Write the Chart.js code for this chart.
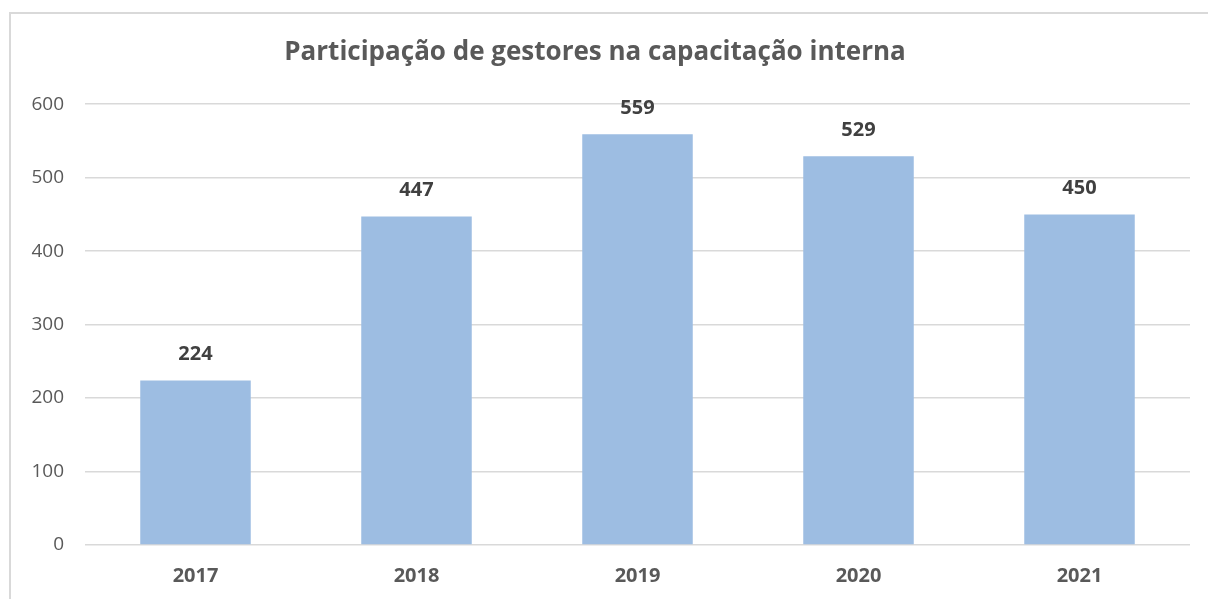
<!DOCTYPE html>
<html>
<head>
<meta charset="utf-8">
<script src="https://cdn.jsdelivr.net/npm/chart.js@4"></script>
<style>
  html, body { margin: 0; padding: 0; background: #fff; }
  #wrap { position: relative; width: 1208px; height: 599px; }
</style>
</head>
<body>
<div id="wrap"><canvas id="chart" width="1208" height="599"></canvas></div>
<script>
// Chart data
const years = ['2017', '2018', '2019', '2020', '2021'];
const participants = [224, 447, 559, 529, 450];
const yTicks = [0, 100, 200, 300, 400, 500, 600];

const textColor = '#595959';
const gridColor = '#d9d9d9';
const barColor = '#9dbde2';
const fontFamily = '"Open Sans", sans-serif';

// Outer frame of the chart (only left and top edges are visible)
const framePlugin = {
    id: 'frame',
    beforeDraw(chart) {
        const c = chart.ctx;
        c.save();
        c.strokeStyle = '#d9d9d9';
        c.lineWidth = 2;
        c.beginPath();
        c.moveTo(10, chart.height + 5);
        c.lineTo(10, 13);
        c.lineTo(chart.width + 5, 13);
        c.stroke();
        c.restore();
    }
};

// Value labels on top of each bar
const valueLabels = {
    id: 'valueLabels',
    afterDatasetsDraw(chart) {
        const c = chart.ctx;
        const meta = chart.getDatasetMeta(0);
        c.save();
        c.font = 'bold 20px ' + fontFamily;
        c.fillStyle = '#404040';
        c.textAlign = 'center';
        c.textBaseline = 'middle';
        meta.data.forEach((bar, i) => {
            c.fillText(String(participants[i]), bar.x, bar.y - 26);
        });
        c.restore();
    }
};

new Chart(document.getElementById('chart'), {
    type: 'bar',
    data: {
        labels: years,
        datasets: [{
            data: participants,
            backgroundColor: barColor,
            borderWidth: 0,
            categoryPercentage: 1.0,
            barPercentage: 0.5
        }]
    },
    options: {
        responsive: false,
        animation: false,
        layout: { padding: { left: 0, right: 18, top: 0, bottom: 12 } },
        scales: {
            x: {
                afterFit: (scale) => { scale.height = 42; },
                grid: { display: false, drawTicks: false },
                border: { display: false },
                ticks: {
                    color: textColor,
                    padding: 19,
                    font: { family: fontFamily, size: 20, weight: 'bold' }
                }
            },
            y: {
                min: 0,
                max: 600,
                afterBuildTicks: (scale) => {
                    scale.ticks = yTicks.map(v => ({ value: v }));
                },
                afterFit: (scale) => { scale.width = 85; },
                grid: { color: gridColor, lineWidth: 1.5, drawTicks: false },
                border: { display: false },
                ticks: {
                    color: textColor,
                    padding: 21,
                    font: { family: fontFamily, size: 19 }
                }
            }
        },
        plugins: {
            legend: { display: false },
            tooltip: { enabled: false },
            title: {
                display: true,
                text: 'Participação de gestores na capacitação interna',
                color: textColor,
                font: { family: fontFamily, size: 26, weight: 'bold' },
                padding: { top: 37, bottom: 36 }
            }
        }
    },
    plugins: [framePlugin, valueLabels]
});
</script>
</body>
</html>
